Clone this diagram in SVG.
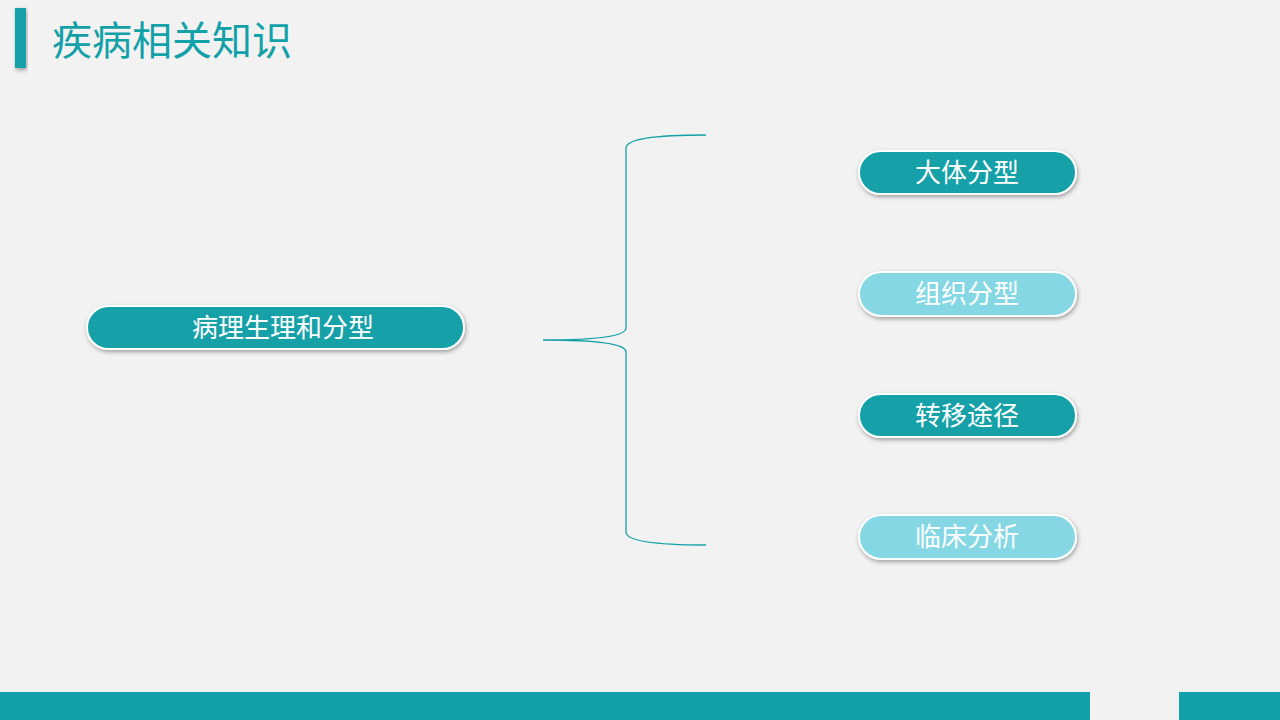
<svg xmlns="http://www.w3.org/2000/svg" width="1280" height="720" viewBox="0 0 1280 720">
<defs>
<filter id="sh" x="-10%" y="-30%" width="120%" height="160%"><feDropShadow dx="1" dy="2" stdDeviation="2" flood-color="#000" flood-opacity="0.35"/></filter>
<style>
.t{font-family:"Noto Sans CJK SC",sans-serif;fill:#fff;font-size:26px;text-anchor:middle}
.d{fill:#12a1a8;stroke:#fff;stroke-width:2}
.l{fill:#85d8e3;stroke:#fff;stroke-width:2}
</style>
</defs>
<rect width="1280" height="720" fill="#f2f2f2"/>
<rect x="15" y="8" width="11" height="60" fill="#12a1a8" filter="url(#sh)"/>
<text x="52" y="55" font-family="Noto Sans CJK SC,serif" font-size="40" fill="#12a1a8">疾病相关知识</text>
<rect x="0" y="692" width="1090" height="28" fill="#12a1a8"/>
<rect x="1179" y="692" width="101" height="28" fill="#12a1a8"/>
<g id="connectors"><path d="M706 135 Q626 135 626 148 V328 Q626 340 543 340 Q626 340 626 352 V532 Q626 545 706 545" fill="none" stroke="#12a1a8" stroke-width="1.3"/></g>
<g id="main"><rect class="d" x="87" y="306" width="377" height="43" rx="21.5" filter="url(#sh)"/><text class="t" x="283" y="337">病理生理和分型</text></g>
<g id="n1"><rect class="d" x="859" y="151" width="217" height="43" rx="21.5" filter="url(#sh)"/><text class="t" x="967" y="182">大体分型</text></g>
<g id="n2"><rect class="l" x="859" y="272" width="217" height="44" rx="22" filter="url(#sh)"/><text class="t" x="967" y="303">组织分型</text></g>
<g id="n3"><rect class="d" x="859" y="394" width="217" height="43" rx="21.5" filter="url(#sh)"/><text class="t" x="967" y="425">转移途径</text></g>
<g id="n4"><rect class="l" x="859" y="515" width="217" height="44" rx="22" filter="url(#sh)"/><text class="t" x="967" y="546">临床分析</text></g>
</svg>
